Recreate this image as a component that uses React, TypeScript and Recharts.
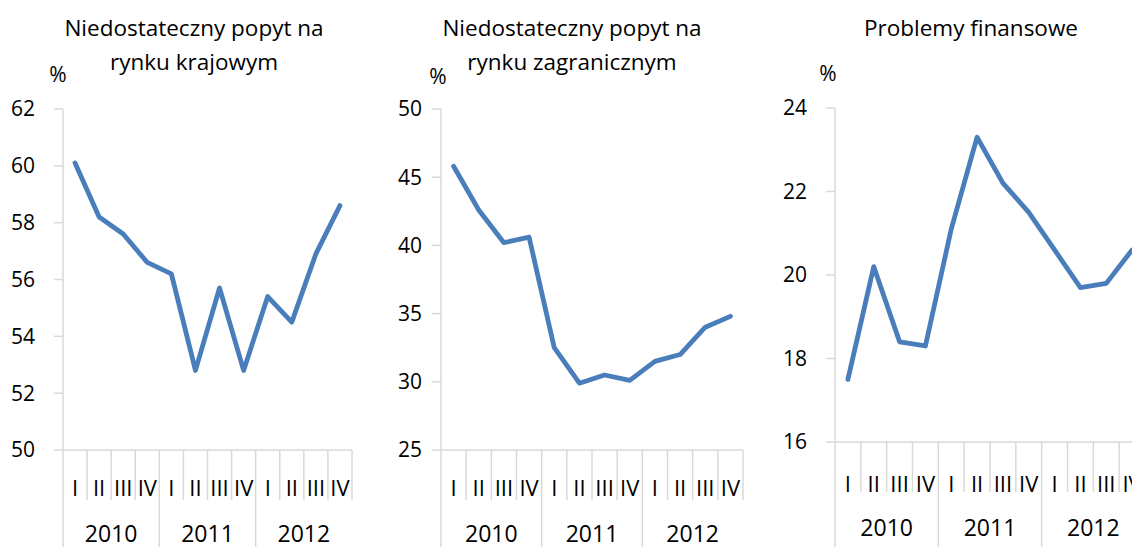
import React from 'react';
import { LineChart, Line, XAxis, YAxis } from 'recharts';

const quarters = ['I', 'II', 'III', 'IV', 'I', 'II', 'III', 'IV', 'I', 'II', 'III', 'IV'];
const years = ['2010', '2011', '2012'];

const krajowy = [60.1, 58.2, 57.6, 56.6, 56.2, 52.8, 55.7, 52.8, 55.4, 54.5, 56.9, 58.6];
const zagraniczny = [45.8, 42.6, 40.2, 40.6, 32.5, 29.9, 30.5, 30.1, 31.5, 32.0, 34.0, 34.8];
const finansowe = [17.5, 20.2, 18.4, 18.3, 21.1, 23.3, 22.2, 21.5, 20.6, 19.7, 19.8, 20.6];

const ticksKrajowy = [50, 52, 54, 56, 58, 60, 62];
const ticksZagraniczny = [25, 30, 35, 40, 45, 50];
const ticksFinansowe = [16, 18, 20, 22, 24];

const FONT = '"Open Sans", sans-serif';
const GRID = '#d9d9d9';
const BLUE = '#4a7ebb';

const buildData = (values: number[]) =>
  quarters.map((q, i) => ({ id: `${years[Math.floor(i / 4)]}-${q}`, v: values[i] }));

interface TickCfg {
  bw: number;
  qDy: number;
  yDy: number;
  shortLen: number;
  longLen: number;
}

const QuarterTick = (props: any) => {
  const { x, y, index, cfg } = props;
  const c: TickCfg = cfg;
  const left = x - c.bw / 2;
  const isYearStart = index % 4 === 0;
  return (
    <g>
      <line x1={left} x2={left} y1={y} y2={y + (isYearStart ? c.longLen : c.shortLen)} stroke={GRID} strokeWidth={1.5} />
      {index === quarters.length - 1 && (
        <line x1={x + c.bw / 2} x2={x + c.bw / 2} y1={y} y2={y + c.shortLen} stroke={GRID} strokeWidth={1.5} />
      )}
      <text x={x} y={y + c.qDy} textAnchor="middle" dominantBaseline="central" fontSize={22} fontFamily={FONT} fill="#000">
        {quarters[index]}
      </text>
      {index % 4 === 1 && (
        <text x={x + c.bw / 2} y={y + c.yDy} textAnchor="middle" dominantBaseline="central" fontSize={23} fontFamily={FONT} fill="#000">
          {years[Math.floor(index / 4)]}
        </text>
      )}
    </g>
  );
};

interface PanelProps {
  left: number;
  width: number;
  yAxisWidth: number;
  marginTop: number;
  marginRight: number;
  xAxisHeight: number;
  values: number[];
  ticks: number[];
  labelGap: number;
  cfg: TickCfg;
}

const Panel = ({ left, width, yAxisWidth, marginTop, marginRight, xAxisHeight, values, ticks, labelGap, cfg }: PanelProps) => (
  <div style={{ position: 'absolute', left, top: 0 }}>
    <LineChart
      width={width}
      height={547}
      data={buildData(values)}
      margin={{ top: marginTop, right: marginRight, bottom: 0, left: 0 }}
    >
      <XAxis
        dataKey="id"
        interval={0}
        height={xAxisHeight}
        padding={{ left: cfg.bw / 2, right: cfg.bw / 2 }}
        axisLine={{ stroke: GRID, strokeWidth: 1.5 }}
        tickLine={false}
        tickSize={0}
        tickMargin={0}
        tick={(p: any) => <QuarterTick {...p} cfg={cfg} />}
      />
      <YAxis
        width={yAxisWidth}
        domain={[ticks[0], ticks[ticks.length - 1]]}
        ticks={ticks}
        interval={0}
        axisLine={{ stroke: GRID, strokeWidth: 1.5 }}
        tickLine={{ stroke: GRID, strokeWidth: 1.5 }}
        tickSize={9}
        tickMargin={labelGap}
        tick={{ fontSize: 21, fontFamily: FONT, fill: '#000' }}
      />
      <Line
        type="linear"
        dataKey="v"
        stroke={BLUE}
        strokeWidth={4.8}
        strokeLinejoin="round"
        strokeLinecap="round"
        dot={false}
        isAnimationActive={false}
      />
    </LineChart>
  </div>
);

const titleStyle: React.CSSProperties = {
  position: 'absolute',
  fontFamily: FONT,
  fontSize: 22.5,
  lineHeight: '34px',
  textAlign: 'center',
  color: '#000',
  whiteSpace: 'nowrap',
  transform: 'translateX(-50%)',
};

const pctStyle: React.CSSProperties = {
  position: 'absolute',
  fontFamily: FONT,
  fontSize: 21,
  lineHeight: '24px',
  color: '#000',
  transform: 'translate(-50%, -50%)',
};

export default function App() {
  return (
    <div style={{ position: 'absolute', left: 0, top: 0, width: 1132, height: 547, overflow: 'hidden', background: '#fff' }}>
      <Panel
        left={0}
        width={380}
        yAxisWidth={63}
        marginTop={109}
        marginRight={28}
        xAxisHeight={97}
        values={krajowy}
        ticks={ticksKrajowy}
        labelGap={19}
        cfg={{ bw: 24.08, qDy: 37, yDy: 83, shortLen: 50, longLen: 97 }}
      />
      <Panel
        left={380}
        width={380}
        yAxisWidth={61}
        marginTop={109}
        marginRight={17}
        xAxisHeight={97}
        values={zagraniczny}
        ticks={ticksZagraniczny}
        labelGap={10}
        cfg={{ bw: 25.17, qDy: 37, yDy: 83, shortLen: 50, longLen: 97 }}
      />
      <Panel
        left={760}
        width={400}
        yAxisWidth={75}
        marginTop={108}
        marginRight={15}
        xAxisHeight={105}
        values={finansowe}
        ticks={ticksFinansowe}
        labelGap={19}
        cfg={{ bw: 25.83, qDy: 41, yDy: 85, shortLen: 50, longLen: 105 }}
      />

      <div style={{ ...titleStyle, left: 194, top: 11 }}>
        Niedostateczny popyt na
        <br />
        rynku krajowym
      </div>
      <div style={{ ...titleStyle, left: 572, top: 11 }}>
        Niedostateczny popyt na
        <br />
        rynku zagranicznym
      </div>
      <div style={{ ...titleStyle, left: 971, top: 11 }}>Problemy finansowe</div>

      <div style={{ ...pctStyle, left: 58, top: 74 }}>%</div>
      <div style={{ ...pctStyle, left: 438, top: 76 }}>%</div>
      <div style={{ ...pctStyle, left: 828, top: 73 }}>%</div>
    </div>
  );
}
